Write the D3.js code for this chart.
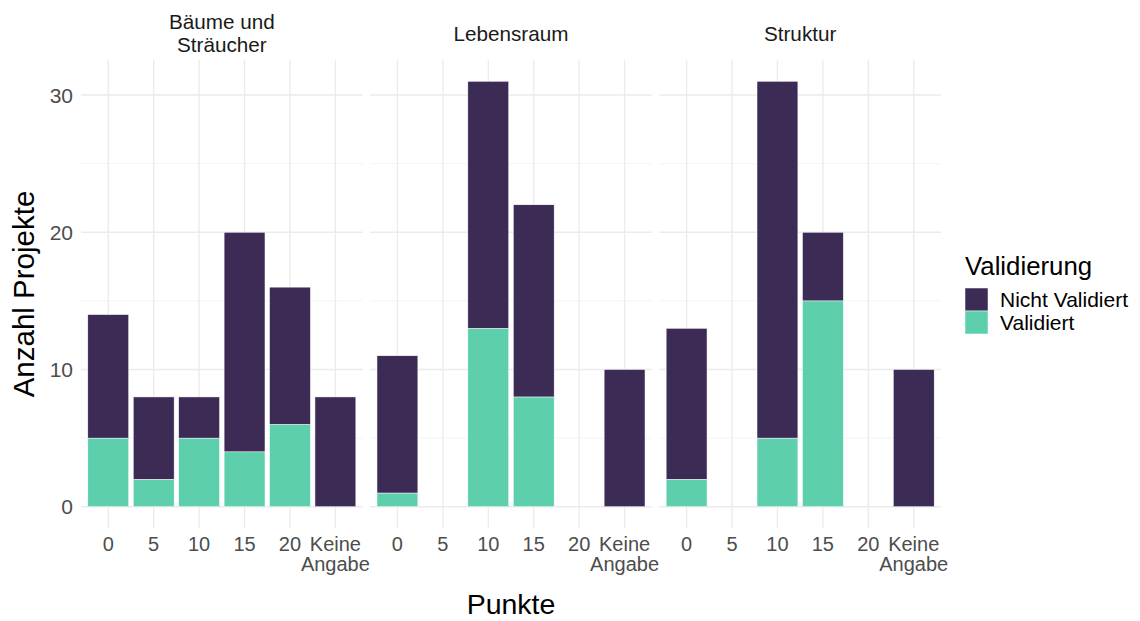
<!DOCTYPE html>
<html><head><meta charset="utf-8">
<script src="https://cdn.jsdelivr.net/npm/d3@7"></script>
<style>body{margin:0;background:#fff}text{font-family:"Liberation Sans",Arial,sans-serif}</style>
</head><body><svg id="c" width="1140" height="621"></svg>
<script>
const facets = ["Bäume und\nSträucher", "Lebensraum", "Struktur"];
const categories = ["0", "5", "10", "15", "20", "Keine\nAngabe"];
const seriesNames = ["Nicht Validiert", "Validiert"];
const validiert = {
  "Bäume und\nSträucher": [5, 2, 5, 4, 6, 0],
  "Lebensraum": [1, 0, 13, 8, 0, 0],
  "Struktur": [2, 0, 5, 15, 0, 0]
};
const nichtValidiert = {
  "Bäume und\nSträucher": [9, 6, 3, 16, 10, 8],
  "Lebensraum": [10, 0, 18, 14, 0, 10],
  "Struktur": [11, 0, 26, 5, 0, 10]
};
const yTicks = [0, 10, 20, 30];
const yMinor = [5, 15, 25];
const colors = {"Nicht Validiert": "#3b2b55", "Validiert": "#5ecfad"};

const svg = d3.select("#c");
const pTop = 60, pBottom = 528;
const fx = d3.scaleBand().domain(facets).range([81, 941]).paddingInner(7.5/289);
const ymax = d3.max(facets, f => d3.max(categories, (c, i) => validiert[f][i] + nichtValidiert[f][i]));
const y = d3.scaleLinear().domain([-ymax*0.05, ymax*1.05]).range([pBottom, pTop]);

facets.forEach(f => {
  const x0 = fx(f), w = fx.bandwidth();
  const x = d3.scaleBand().domain(categories).range([x0, x0 + w]).paddingInner(0.1).paddingOuter(0.15);
  const g = svg.append("g");
  g.selectAll(".mn").data(yMinor).join("line")
    .attr("x1", x0).attr("x2", x0 + w).attr("y1", d => y(d)).attr("y2", d => y(d))
    .attr("stroke", "#f1f1f1").attr("stroke-width", 0.8);
  g.selectAll(".mj").data(yTicks).join("line")
    .attr("x1", x0).attr("x2", x0 + w).attr("y1", d => y(d)).attr("y2", d => y(d))
    .attr("stroke", "#ebebeb").attr("stroke-width", 1.3);
  g.selectAll(".vx").data(categories).join("line")
    .attr("x1", d => x(d) + x.bandwidth()/2).attr("x2", d => x(d) + x.bandwidth()/2)
    .attr("y1", pTop).attr("y2", pBottom)
    .attr("stroke", "#ebebeb").attr("stroke-width", 1.3);
  const rows = categories.map((c, i) => ({c, v: validiert[f][i], n: nichtValidiert[f][i]}));
  g.selectAll(".bv").data(rows.filter(d => d.v > 0)).join("rect")
    .attr("x", d => x(d.c)).attr("width", x.bandwidth())
    .attr("y", d => y(d.v)).attr("height", d => y(0) - y(d.v))
    .attr("fill", colors["Validiert"]).attr("stroke", "#fff").attr("stroke-width", 0.5);
  g.selectAll(".bn").data(rows.filter(d => d.n > 0)).join("rect")
    .attr("x", d => x(d.c)).attr("width", x.bandwidth())
    .attr("y", d => y(d.v + d.n)).attr("height", d => y(d.v) - y(d.v + d.n))
    .attr("fill", colors["Nicht Validiert"]).attr("stroke", "#fff").attr("stroke-width", 0.5);
  const tickLines = categories.flatMap(c => c.split("\n").map((ln, k) => ({c, ln, k})));
  g.selectAll(".xl").data(tickLines).join("text")
    .attr("x", d => x(d.c) + x.bandwidth()/2).attr("y", d => 551 + d.k*20)
    .attr("text-anchor", "middle").attr("font-size", 20).attr("fill", "#4d4d4d").text(d => d.ln);
  const lines = f.split("\n");
  g.selectAll(".st").data(lines).join("text")
    .attr("x", x0 + w/2).attr("y", (d, k) => lines.length === 1 ? 41 : 29 + k*23)
    .attr("text-anchor", "middle").attr("font-size", 20.7).attr("fill", "#1a1a1a").text(d => d);
});

svg.selectAll(".yl").data(yTicks).join("text")
  .attr("x", 73).attr("y", d => y(d)).attr("dy", "0.36em")
  .attr("text-anchor", "end").attr("font-size", 21).attr("fill", "#4d4d4d").text(d => d);

svg.append("text").attr("transform", `translate(34,${(pTop+pBottom)/2}) rotate(-90)`)
  .attr("text-anchor", "middle").attr("font-size", 29.5).attr("fill", "#000").text("Anzahl Projekte");
svg.append("text").attr("x", (fx(facets[0]) + fx(facets[2]) + fx.bandwidth())/2).attr("y", 614)
  .attr("text-anchor", "middle").attr("font-size", 28.5).attr("fill", "#000").text("Punkte");

const lg = svg.append("g");
lg.append("text").attr("x", 965).attr("y", 275).attr("font-size", 25.8).attr("fill", "#000").text("Validierung");
seriesNames.forEach((s, i) => {
  lg.append("rect").attr("x", 965).attr("y", 288 + i*23).attr("width", 23).attr("height", 23)
    .attr("fill", colors[s]).attr("stroke", "#fff").attr("stroke-width", 0.5);
  lg.append("text").attr("x", 1000).attr("y", 299.5 + i*23).attr("dy", "0.36em")
    .attr("font-size", 21).attr("fill", "#000").text(s);
});
</script></body></html>
